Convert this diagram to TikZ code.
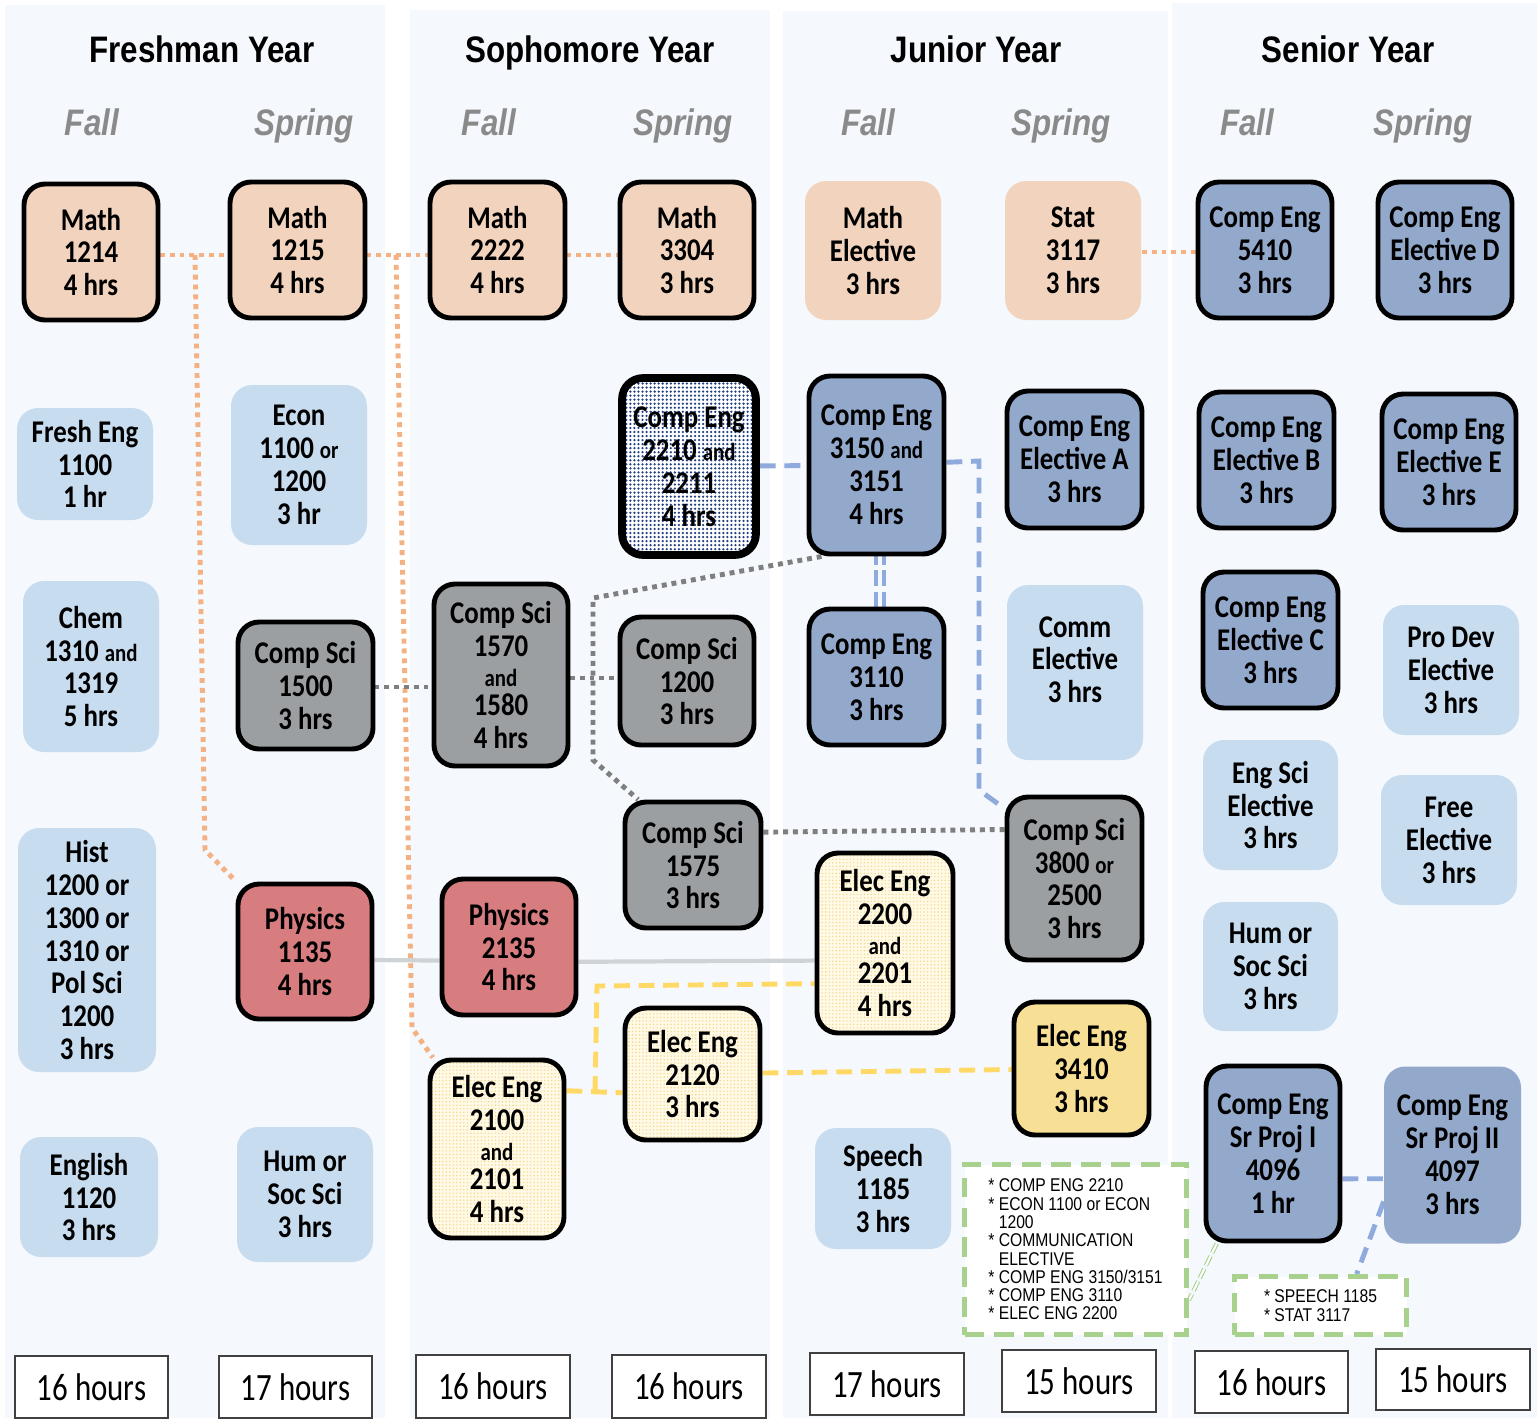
\documentclass[tikz,border=0pt]{standalone}
\usepackage{fontspec}
\setmainfont{Carlito}[FakeStretch=0.85]
\newfontfamily\arialf{Liberation Sans}[FakeStretch=0.85]
\newfontfamily\hoursf{Carlito}[FakeStretch=0.8]
\usetikzlibrary{patterns.meta}

\definecolor{panelbg}{HTML}{F5F8FC}
\definecolor{peach}{HTML}{F2D4BE}
\definecolor{softblue}{HTML}{C8DCF0}
\definecolor{csgrey}{HTML}{9C9FA2}
\definecolor{ceblue}{HTML}{93A9CC}
\definecolor{physred}{HTML}{D77D7F}
\definecolor{eebg}{HTML}{FFF9E6}
\definecolor{eedot}{HTML}{F0D98C}
\definecolor{eesolid}{HTML}{F7DF95}
\definecolor{cedot}{HTML}{23407F}
\definecolor{termgrey}{HTML}{8A8A8A}
\definecolor{hourline}{HTML}{404040}
\definecolor{notegreen}{HTML}{A9D18E}
\definecolor{peachline}{HTML}{F4B183}
\definecolor{dotgrey}{HTML}{7F7F7F}
\definecolor{blueline}{HTML}{8FAADC}
\definecolor{yelline}{HTML}{FFD966}
\definecolor{physline}{HTML}{D0D3D6}

\pgfdeclarelayer{lines}
\pgfsetlayers{lines,main}
\newcommand{\sm}[1]{{\fontsize{14}{15}\selectfont #1}}

\tikzset{
    sz/.style 2 args={minimum width=#1*0.02cm, minimum height=#2*0.02cm},
    course/.style={rectangle, rounded corners=12pt, align=center, inner sep=0pt,
      text=black, font=\bfseries\fontsize{18}{18.7}\selectfont},
    ringed/.style={course, draw=black, line width=2.8pt},
    mathc/.style={ringed, fill=peach},
    mathsoft/.style={course, fill=peach},
    general/.style={course, fill=softblue},
    csci/.style={ringed, fill=csgrey},
    ceng/.style={ringed, fill=ceblue},
    cengsoft/.style={course, fill=ceblue},
    phys/.style={ringed, fill=physred},
    eeng/.style={ringed, preaction={fill=eebg},
      pattern={Dots[distance=2pt, radius=0.45pt]}, pattern color=eedot},
    eengsolid/.style={ringed, fill=eesolid},
    cedots/.style={course, draw=black, line width=4.4pt, preaction={fill=white},
      pattern={Dots[distance=2.3pt, radius=0.72pt]}, pattern color=cedot},
    yeartitle/.style={font=\arialf\bfseries\fontsize{21}{24}\selectfont, anchor=base},
    term/.style={font=\arialf\bfseries\itshape\fontsize{21}{24}\selectfont,
      text=termgrey, anchor=base},
    hours/.style={draw=hourline, line width=1.1pt, fill=white, inner sep=0pt,
      font=\hoursf\fontsize{22}{24}\selectfont},
    notebox/.style={draw=notegreen, line width=2.8pt, dash pattern=on 11pt off 6pt,
      fill=white, align=left, inner sep=0pt, font=\arialf\fontsize{10.5}{10.4}\selectfont},
    peachdot/.style={draw=peachline, line width=2.8pt, dash pattern=on 2.8pt off 2.8pt},
    greydot/.style={draw=dotgrey, line width=2.8pt, dash pattern=on 2.8pt off 2.8pt},
    bluedash/.style={draw=blueline, line width=2.8pt, dash pattern=on 9pt off 5pt},
    yeldash/.style={draw=yelline, line width=2.8pt, dash pattern=on 9pt off 5pt},
    physlink/.style={draw=physline, line width=2.4pt}
}

\begin{document}
\begin{tikzpicture}[x=0.02cm, y=-0.02cm]

    \useasboundingbox (0,0) rectangle (1537,1418);

    % Year panels
    \begin{pgfonlayer}{lines}
    \fill[panelbg] (5,5) rectangle (385,1418);
    \fill[panelbg] (410,10) rectangle (770,1418);
    \fill[panelbg] (783,11) rectangle (1168,1418);
    \fill[panelbg] (1172,3) rectangle (1537,1418);
    \end{pgfonlayer}

    % Headings
    \node[yeartitle] (yr1) at (202,62) {Freshman Year};
    \node[yeartitle] (yr2) at (590,62) {Sophomore Year};
    \node[yeartitle] (yr3) at (976,62) {Junior Year};
    \node[yeartitle] (yr4) at (1348,62) {Senior Year};
    \foreach \tx/\tname in {92/Fall, 304/Spring, 489/Fall, 683/Spring,
                            868/Fall, 1061/Spring, 1247/Fall, 1423/Spring}
      \node[term] (t\tx) at (\tx,135) {\tname};

    % Freshman fall
    \node[mathc, sz={134}{136}] (m1214) at (91,252) {Math\\1214\\4 hrs};
    \node[general, sz={136}{112}] (fe1100) at (85,464) {Fresh Eng\\1100\\1 hr};
    \node[general, sz={136}{171}] (ch1310) at (91,666.5) {Chem\\1310 \sm{and}\\1319\\5 hrs};
    \node[general, sz={138}{244}] (hi1200) at (87,950)
      {Hist\\1200 or\\1300 or\\1310 or\\Pol Sci\\1200\\3 hrs};
    \node[general, sz={138}{120}] (en1120) at (89,1197) {English\\1120\\3 hrs};

    % Freshman spring
    \node[mathc, sz={135}{136}] (m1215) at (297.5,250) {Math\\1215\\4 hrs};
    \node[general, sz={136}{160}] (ec1100) at (299,465) {Econ\\1100 \sm{or}\\1200\\3 hr};
    \node[csci, sz={135}{127}] (cs1500) at (305.5,685.5) {Comp Sci\\1500\\3 hrs};
    \node[phys, sz={134}{135}] (ph1135) at (305,951.5) {Physics\\1135\\4 hrs};
    \node[general, sz={136}{135}] (hs1) at (305,1194.5) {Hum or\\Soc Sci\\3 hrs};

    % Sophomore fall
    \node[mathc, sz={135}{136}] (m2222) at (497.5,250) {Math\\2222\\4 hrs};
    \node[csci, sz={134}{182}] (cs1570) at (501,675)
      {Comp Sci\\1570\\[-2pt]\sm{and}\\[-2pt]1580\\4 hrs};
    \node[phys, sz={134}{136}] (ph2135) at (509,947) {Physics\\2135\\4 hrs};
    \node[eeng, sz={134}{178}] (ee2100) at (497,1149)
      {Elec Eng\\2100\\[-2pt]\sm{and}\\[-2pt]2101\\4 hrs};

    % Sophomore spring
    \node[mathc, sz={134}{136}] (m3304) at (687,250) {Math\\3304\\3 hrs};
    \node[cedots, sz={134}{177}] (ce2210) at (689,466.5) {Comp Eng\\2210 \sm{and}\\2211\\4 hrs};
    \node[csci, sz={134}{128}] (cs1200) at (687,681) {Comp Sci\\1200\\3 hrs};
    \node[csci, sz={136}{126}] (cs1575) at (693,865) {Comp Sci\\1575\\3 hrs};
    \node[eeng, sz={135}{132}] (ee2120) at (692.5,1074) {Elec Eng\\2120\\3 hrs};

    % Junior fall
    \node[mathsoft, sz={136}{139}] (mel) at (873,250.5) {Math\\Elective\\3 hrs};
    \node[ceng, sz={135}{178}] (ce3150) at (876.5,465) {Comp Eng\\3150 \sm{and}\\3151\\4 hrs};
    \node[ceng, sz={135}{136}] (ce3110) at (876.5,677) {Comp Eng\\3110\\3 hrs};
    \node[eeng, sz={136}{180}] (ee2200) at (885,943)
      {Elec Eng\\2200\\[-2pt]\sm{and}\\[-2pt]2201\\4 hrs};
    \node[general, sz={136}{121}] (sp1185) at (883,1188.5) {Speech\\1185\\3 hrs};

    % Junior spring
    \node[mathsoft, sz={136}{139}] (st3117) at (1073,250.5) {Stat\\3117\\3 hrs};
    \node[ceng, sz={135}{137}] (ceA) at (1074.5,459.5) {Comp Eng\\Elective A\\3 hrs};
    \node[general, sz={136}{175}] (comm) at (1075,672.5) {Comm\\Elective\\3 hrs\\[-3.9pt]\mbox{}};
    \node[csci, sz={135}{163}] (cs3800) at (1074.5,878.5) {Comp Sci\\3800 \sm{or}\\2500\\3 hrs};
    \node[eengsolid, sz={135}{133}] (ee3410) at (1081.5,1068.5) {Elec Eng\\3410\\3 hrs};

    % Senior fall
    \node[ceng, sz={134}{136}] (ce5410) at (1265,250) {Comp Eng\\5410\\3 hrs};
    \node[ceng, sz={135}{136}] (ceB) at (1266.5,460) {Comp Eng\\Elective B\\3 hrs};
    \node[ceng, sz={135}{136}] (ceC) at (1270.5,640) {Comp Eng\\Elective C\\3 hrs};
    \node[general, sz={135}{130}] (esel) at (1270.5,805) {Eng Sci\\Elective\\3 hrs};
    \node[general, sz={135}{129}] (hs2) at (1270.5,966.5) {Hum or\\Soc Sci\\3 hrs};
    \node[ceng, sz={134}{175}] (sp4096) at (1273,1153.5) {Comp Eng\\Sr Proj I\\4096\\1 hr};

    % Senior spring
    \node[ceng, sz={134}{136}] (ceD) at (1445,250) {Comp Eng\\Elective D\\3 hrs};
    \node[ceng, sz={134}{136}] (ceE) at (1449,462) {Comp Eng\\Elective E\\3 hrs};
    \node[general, sz={136}{130}] (pdel) at (1451,670) {Pro Dev\\Elective\\3 hrs};
    \node[general, sz={136}{130}] (frel) at (1449,840) {Free\\Elective\\3 hrs};
    \node[cengsoft, sz={137}{177}] (sp4097) at (1452.5,1155) {Comp Eng\\Sr Proj II\\4097\\3 hrs};

    % Notes
    \node[notebox, sz={222}{170}] (note1) at (1075.5,1249.5)
      {* COMP ENG 2210\\* ECON 1100 or ECON\\\hphantom{* }1200\\* COMMUNICATION\\
       \hphantom{* }ELECTIVE\\* COMP ENG 3150/3151\\* COMP ENG 3110\\* ELEC ENG 2200};
    \node[notebox, sz={172}{58}] (note2) at (1320.5,1305.5) {* SPEECH 1185\\* STAT 3117};

    % Semester hours
    \node[hours, sz={153}{62}] (h1) at (91.5,1387) {16 hours};
    \node[hours, sz={153}{62}] (h2) at (295.5,1387) {17 hours};
    \node[hours, sz={154}{63}] (h3) at (493,1386.5) {16 hours};
    \node[hours, sz={154}{63}] (h4) at (689,1386.5) {16 hours};
    \node[hours, sz={154}{62}] (h5) at (887,1384) {17 hours};
    \node[hours, sz={154}{62}] (h6) at (1079,1381) {15 hours};
    \node[hours, sz={153}{62}] (h7) at (1271.5,1382) {16 hours};
    \node[hours, sz={154}{61}] (h8) at (1453,1379.5) {15 hours};

    % Prerequisite links (behind the boxes)
    \begin{pgfonlayer}{lines}
    \coordinate (mb1) at (195,255);
    \coordinate (mb2) at (396,255);
    \coordinate (yb1) at (595,1092);

    \draw[peachdot] (m1214 |- 0,255) -- (m1215 |- 0,255);
    \draw[peachdot] (mb1) -- (205,850) -- (ph1135);
    \draw[peachdot] (m1215 |- 0,255) -- (m2222 |- 0,255);
    \draw[peachdot] (mb2) -- (412,1028) -- (ee2100);
    \draw[peachdot] (m2222 |- 0,255) -- (m3304 |- 0,255);
    \draw[peachdot] (st3117 |- 0,252) -- (ce5410 |- 0,252);

    \draw[greydot] (cs1500 |- 0,687) -- (cs1570 |- 0,687);
    \draw[greydot] (cs1570 |- 0,678) -- (cs1200 |- 0,678);
    \draw[greydot] (ce3150.239) -- (593,598) -- (593,760) -- (cs1575.130);
    \draw[greydot] (cs1575.25) -- (cs3800.145);

    \draw[bluedash] (ce2210) -- (ce3150);
    \draw[bluedash] (ce3150) -- (979,461) -- (979,790) -- (cs3800.135);
    \draw[blueline, line width=2.2pt, double=panelbg, double distance=2.4pt,
          dash pattern=on 9pt off 3pt] (ce3150 -| 880,0) -- (ce3110 -| 880,0);
    \draw[bluedash] (sp4096.-20) -- (sp4097.199);
    \draw[bluedash] (sp4097.214) -- (note2.41);
    \draw[notegreen, line width=0.6pt, double=white, double distance=1.2pt,
          dash pattern=on 6pt off 2pt] (sp4096.238) -- (note1.-24);

    \draw[physlink] (ph1135.-7) -- (ph2135.191);
    \draw[physlink] (ph2135.-12) -- (ee2200.194);

    \draw[yeldash] (ee2100.40) -- (ee2120.195);
    \draw[yeldash] (yb1) -- (597,986) -- (ee2200.210);
    \draw[yeldash] (ee2120) -- (ee3410);
    \end{pgfonlayer}
\end{tikzpicture}
\end{document}
